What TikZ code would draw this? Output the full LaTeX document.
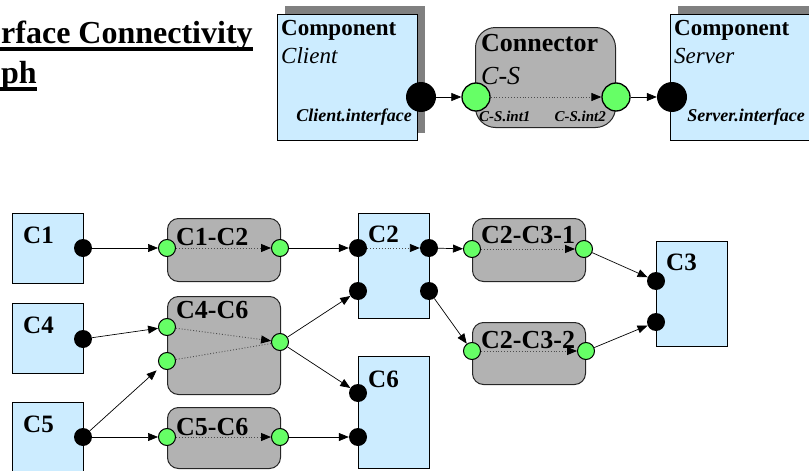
\documentclass[tikz,border=0pt]{standalone}
\usepackage{fontspec}
\setmainfont{Liberation Serif}
\usetikzlibrary{arrows.meta}
\definecolor{compblue}{HTML}{CCECFF}
\definecolor{conngray}{HTML}{B2B2B2}
\definecolor{shadowgray}{HTML}{808080}
\definecolor{portgreen}{HTML}{66FF66}
\begin{document}
\begin{tikzpicture}[x=1pt,y=-1pt,
  comp/.style={draw=black, line width=1.4pt, fill=compblue, anchor=north west, inner sep=0pt},
  conn/.style={draw=black!85, line width=1pt, fill=conngray, rounded corners=11pt, anchor=north west, inner sep=0pt},
  bport/.style={circle, fill=black, inner sep=0pt, minimum size=18pt},
  gport/.style={circle, draw=black, line width=1pt, fill=portgreen, inner sep=0pt, minimum size=17pt},
  bigb/.style={bport, minimum size=30pt},
  bigg/.style={gport, minimum size=28pt, line width=1.3pt},
  link/.style={-{Triangle[length=10pt,width=8pt]}, line width=0.7pt},
  inlink/.style={-{Triangle[length=10pt,width=8pt,color=black]}, line width=0.9pt, dotted, draw=black!70},
  lbl/.style={anchor=base west, inner sep=0pt, font=\fontsize{25}{30}\selectfont\bfseries},
  clbl/.style={anchor=base west, inner sep=0pt, font=\fontsize{26}{30}\selectfont\bfseries},
  toplbl/.style={anchor=base west, inner sep=0pt, font=\fontsize{23}{28}\selectfont\bfseries},
  topit/.style={anchor=base west, inner sep=0pt, font=\fontsize{23}{28}\selectfont\itshape},
  iflbl/.style={inner sep=0pt, font=\fontsize{18}{22}\selectfont\bfseries\itshape},
  intlbl/.style={inner sep=0pt, font=\fontsize{15}{18}\selectfont\bfseries\itshape},
]
\clip (0,0) rectangle (809,471);
\useasboundingbox (0,0) rectangle (809,471);

% ---------- title ----------
\node[anchor=base west, inner sep=0pt, font=\fontsize{32}{38}\selectfont\bfseries] (title1) at (1,43) {rface Connectivity};
\node[anchor=base west, inner sep=0pt, font=\fontsize{32}{38}\selectfont\bfseries] (title2) at (1,83) {ph};
\draw[line width=3.2pt] ([xshift=-3pt,yshift=-6pt]title1.base west) -- ([yshift=-6pt]title1.base east);
\draw[line width=3.2pt] ([xshift=-3pt,yshift=-6pt]title2.base west) -- ([yshift=-6pt]title2.base east);

% ---------- top diagram ----------
\fill[shadowgray] (285,6) rectangle (425,133);
\node[comp, minimum width=140pt, minimum height=126pt] (client) at (277,14) {};
\fill[shadowgray] (678,6) rectangle (820,133);
\node[comp, minimum width=140pt, minimum height=126pt] (server) at (670,14) {};
\node[conn, rounded corners=20pt, minimum width=140pt, minimum height=100pt] (cs) at (475,27) {};

\node[toplbl] (clientT) at (281,35) {Component};
\node[topit] (clientN) at (281,63) {Client};
\node[iflbl, anchor=base east] (clientI) at (412,121) {Client.interface};
\node[toplbl] (serverT) at (674,35) {Component};
\node[topit] (serverN) at (674,63) {Server};
\node[iflbl, anchor=base east] (serverI) at (805,121) {Server.interface};
\node[anchor=base west, inner sep=0pt, font=\fontsize{26}{30}\selectfont\bfseries] (csT) at (481,51) {Connector};
\node[anchor=base west, inner sep=0pt, font=\fontsize{26}{30}\selectfont\itshape] (csN) at (481,84) {C-S};
\node[intlbl, anchor=base west] (csI1) at (479,121) {C-S.int1};
\node[intlbl, anchor=base east] (csI2) at (606,121) {C-S.int2};

\node[bigb] (clp) at (421,97) {};
\node[bigg] (csa) at (476,97) {};
\node[bigg] (csb) at (616,97) {};
\node[bigb] (svp) at (672,97) {};
\draw[link] (clp) -- (csa);
\draw[inlink] (csa) -- (csb);
\draw[link] (csb) -- (svp);

% ---------- bottom diagram: boxes ----------
\node[comp, minimum width=71pt, minimum height=70pt] (C1) at (12,213) {};
\node[comp, minimum width=71pt, minimum height=70pt] (C4) at (12,303) {};
\node[comp, minimum width=71pt, minimum height=80pt] (C5) at (12,402) {};
\node[comp, minimum width=71pt, minimum height=105pt] (C2) at (358,213) {};
\node[comp, minimum width=71pt, minimum height=112pt] (C6) at (358,356) {};
\node[comp, minimum width=71pt, minimum height=105pt] (C3) at (656,241) {};

\node[conn, minimum width=113pt, minimum height=63pt] (C12) at (167,218) {};
\node[conn, minimum width=113pt, minimum height=98pt] (C46) at (167,296) {};
\node[conn, minimum width=113pt, minimum height=61pt] (C56) at (167,407) {};
\node[conn, minimum width=113pt, minimum height=63pt] (C231) at (472,218) {};
\node[conn, minimum width=113pt, minimum height=62pt] (C232) at (472,322) {};

% ---------- labels ----------
\node[lbl] (C1L) at (23,243) {C1};
\node[lbl] (C4L) at (23,333) {C4};
\node[lbl] (C5L) at (23,432) {C5};
\node[lbl] (C2L) at (368,242) {C2};
\node[lbl] (C6L) at (368,387) {C6};
\node[lbl] (C3L) at (666,270) {C3};
\node[clbl] (C12L) at (176,245) {C1-C2};
\node[clbl] (C46L) at (176,318) {C4-C6};
\node[clbl] (C56L) at (176,435) {C5-C6};
\node[clbl] (C231L) at (481,243) {C2-C3-1};
\node[clbl] (C232L) at (481,348) {C2-C3-2};

% ---------- ports ----------
\node[bport] (p1) at (83,248) {};
\node[bport] (p4) at (83,339) {};
\node[bport] (p5) at (83,437) {};
\node[bport] (p2a) at (358,248) {};
\node[bport] (p2b) at (358,291) {};
\node[bport] (p2c) at (429,248) {};
\node[bport] (p2d) at (429,291) {};
\node[bport] (p6a) at (358,393) {};
\node[bport] (p6b) at (358,437) {};
\node[bport] (p3a) at (656,281) {};
\node[bport] (p3b) at (656,322) {};

\node[gport] (g12a) at (167,248) {};
\node[gport] (g12b) at (280,248) {};
\node[gport] (g46a) at (167,327) {};
\node[gport] (g46b) at (167,361) {};
\node[gport] (g46c) at (280,342) {};
\node[gport] (g56a) at (167,437) {};
\node[gport] (g56b) at (280,437) {};
\node[gport] (g231a) at (472,249) {};
\node[gport] (g231b) at (584,249) {};
\node[gport] (g232a) at (472,351) {};
\node[gport] (g232b) at (586,351) {};

% ---------- links ----------
\draw[link] (p1) -- (g12a);
\draw[link] (p4) -- (g46a);
\draw[link, shorten >=5pt] (p5) -- (g46b);
\draw[link] (p5) -- (g56a);
\draw[link] (g12b) -- (p2a);
\draw[link] (g46c) -- (p2b);
\draw[link] (g46c) -- (p6a);
\draw[link] (g56b) -- (p6b);
\draw[link] (p2c) -- (g231a);
\draw[link] (p2d) -- (g232a);
\draw[link] (g231b) -- (p3a);
\draw[link] (g232b) -- (p3b);

\draw[inlink] (g12a) -- (g12b);
\draw[inlink] (g46a) -- (g46c);
\draw[line width=0.9pt, dotted, draw=black!70] (g46b) -- (g46c);
\draw[inlink] (g56a) -- (g56b);
\draw[inlink] (p2a) -- (p2c);
\draw[inlink] (g231a) -- (g231b);
\draw[inlink] (g232a) -- (g232b);
\end{tikzpicture}
\end{document}
